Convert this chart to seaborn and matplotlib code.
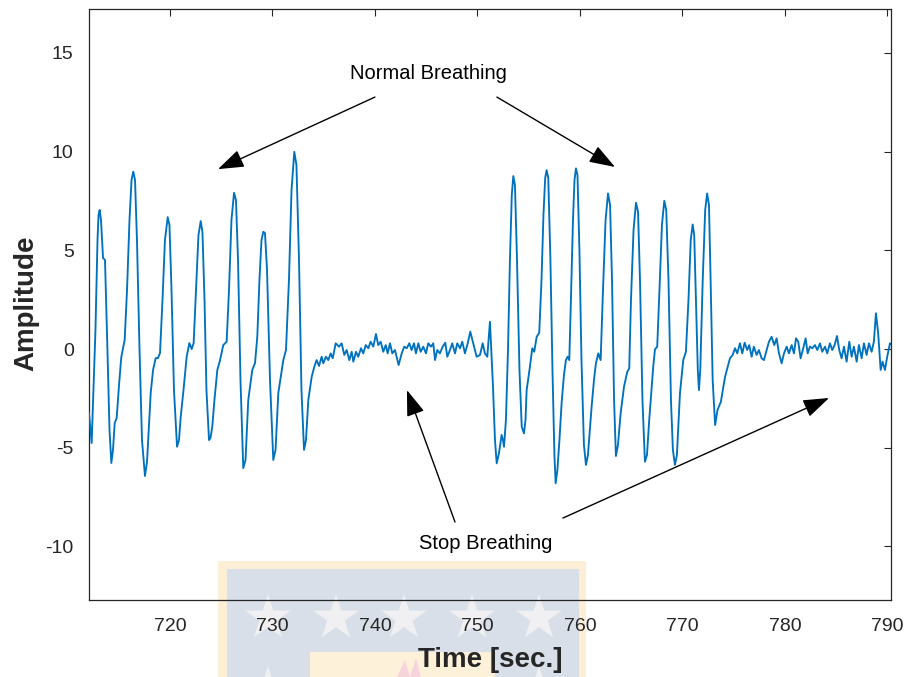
import numpy as np
import pandas as pd
import matplotlib
matplotlib.use("Agg")
import matplotlib.pyplot as plt
from matplotlib.patches import Rectangle, Polygon
import seaborn as sns

# ---- respiration signal, split by phase -------------------------------
breath1_time = [712.10, 712.36, 712.73, 712.93, 713.03, 713.14, 713.27, 713.47, 713.66, 713.90,
                714.10, 714.28, 714.44, 714.61, 714.80, 715.03, 715.25, 715.58, 715.81, 716.05,
                716.25, 716.42, 716.59, 716.78, 717.03, 717.27, 717.56, 717.76, 718.12, 718.35,
                718.61, 718.83, 719.03, 719.27, 719.51, 719.78, 719.95, 720.15, 720.39, 720.69,
                720.88, 721.05, 721.32, 721.63, 721.89, 722.12, 722.31, 722.59, 722.78, 723.00,
                723.17, 723.37, 723.56, 723.81, 723.95, 724.13, 724.34, 724.62, 724.85, 725.20,
                725.53, 725.76, 726.00, 726.25, 726.44, 726.64, 726.88, 727.15, 727.37, 727.64,
                728.03, 728.30, 728.52, 728.73, 728.93, 729.11, 729.27, 729.47, 729.76, 730.08,
                730.30, 730.57, 731.06, 731.32, 731.61, 731.86, 732.13, 732.34, 732.59, 732.83,
                733.08, 733.27, 733.50, 733.83, 734.08, 734.31, 734.54, 734.80]
breath1_amp = [-3.24, -4.76, 0.96, 5.52, 6.78, 7.04, 6.53, 4.61, 4.51, -0.05,
               -4.10, -5.77, -5.11, -3.75, -3.49, -1.82, -0.41, 0.46, 2.99, 6.53,
               8.56, 8.98, 8.56, 5.52, -0.05, -4.61, -6.43, -5.72, -2.23, -1.06,
               -0.46, -0.46, -0.20, 2.48, 5.52, 6.68, 6.28, 2.99, -2.08, -4.95,
               -4.61, -3.43, -2.08, -0.39, 0.30, 0.00, 0.30, 3.49, 5.77, 6.48,
               5.92, 2.48, -2.08, -4.61, -4.51, -3.93, -2.58, -1.06, -0.64, 0.20,
               0.37, 2.99, 6.53, 7.91, 7.54, 4.51, -1.57, -6.03, -5.62, -2.58,
               -1.06, -0.71, 0.62, 3.49, 5.52, 5.94, 5.87, 4.00, -1.57, -5.62,
               -5.11, -2.23, -0.56, -0.05, 3.49, 8.05, 9.99, 9.32, 4.51, -2.08,
               -5.11, -4.61, -2.58, -1.40, -0.90, -0.56, -0.86, -0.39]

pause1_time = [734.96, 735.22, 735.45, 735.68, 735.88, 736.17, 736.49, 736.75, 737.01, 737.24,
               737.50, 737.73, 737.89, 738.15, 738.37, 738.64, 738.86, 739.10, 739.35, 739.58,
               739.84, 740.10, 740.32, 740.56, 740.81, 741.05, 741.24, 741.47, 741.69, 741.95,
               742.31, 742.61, 742.86, 743.10, 743.35, 743.58, 743.81, 744.00, 744.23, 744.46,
               744.71, 744.98, 745.20, 745.47, 745.69, 745.86, 746.08, 746.34, 746.61, 746.86,
               747.06, 747.32, 747.54, 747.81, 748.03, 748.30, 748.52, 748.78, 749.05, 749.30,
               749.59, 749.92, 750.25, 750.51, 750.73, 750.96, 751.22]
pause1_amp = [-0.72, -0.39, -0.56, -0.22, -0.47, 0.29, 0.12, 0.29, -0.30, -0.05,
              -0.56, -0.14, -0.64, -0.14, -0.39, 0.04, -0.22, 0.20, 0.04, 0.37,
              0.12, 0.76, 0.20, 0.37, -0.14, 0.20, -0.22, 0.29, -0.22, -0.05,
              -0.81, -0.22, 0.12, 0.04, 0.29, -0.05, 0.29, -0.22, 0.29, -0.14,
              0.12, -0.22, 0.29, 0.12, 0.29, -0.56, -0.05, -0.22, 0.12, 0.32,
              -0.39, -0.05, 0.29, -0.22, 0.29, 0.04, 0.37, -0.22, 0.29, 0.88,
              0.29, -0.39, -0.30, 0.29, -0.22, -0.39, 1.38]

breath2_time = [751.51, 751.71, 751.88, 752.10, 752.36, 752.49, 752.59, 752.78, 752.98, 753.17,
                753.35, 753.50, 753.66, 753.86, 754.10, 754.32, 754.54, 754.69, 754.80, 755.12,
                755.35, 755.54, 755.78, 756.03, 756.25, 756.44, 756.61, 756.75, 756.91, 757.12,
                757.32, 757.51, 757.63, 757.80, 758.00, 758.21, 758.44, 758.63, 758.80, 758.96,
                759.12, 759.32, 759.47, 759.61, 759.76, 759.95, 760.15, 760.39, 760.59, 760.78,
                761.14, 761.37, 761.56, 761.79, 762.02, 762.25, 762.50, 762.74, 762.94, 763.13,
                763.33, 763.51, 763.71, 763.97, 764.30, 764.62, 764.81, 764.98, 765.23, 765.47,
                765.67, 765.86, 766.10, 766.34, 766.54, 766.76, 766.98, 767.15, 767.32, 767.54,
                767.76, 768.00, 768.23, 768.42, 768.64, 768.88, 769.07, 769.27, 769.46, 769.76,
                770.08, 770.34, 770.59, 770.81, 771.00, 771.15, 771.32, 771.50, 771.61, 771.74,
                771.98, 772.22, 772.41, 772.59, 772.75, 772.95, 773.19, 773.42, 773.75]
breath2_amp = [-1.82, -4.61, -5.79, -5.28, -4.35, -4.61, -4.95, -3.59, -0.05, 4.51,
               7.80, 8.76, 8.30, 4.51, -1.06, -3.93, -4.27, -3.59, -2.08, -0.90,
               0.04, -0.14, 0.62, 0.83, 3.49, 6.78, 8.66, 9.06, 8.66, 4.51,
               -1.06, -5.37, -6.80, -6.13, -4.61, -2.75, -1.32, -0.56, -0.39, -0.56,
               2.48, 6.53, 8.56, 9.15, 8.81, 5.01, -0.56, -4.86, -5.87, -5.37,
               -2.92, -1.57, -0.72, -0.22, -0.56, 2.99, 6.53, 7.88, 7.29, 3.49,
               -2.58, -5.42, -4.86, -3.26, -1.91, -1.15, -0.98, 2.48, 6.03, 7.41,
               6.94, 3.49, -2.58, -5.71, -5.37, -3.59, -2.08, -0.90, -0.02, 0.12,
               2.99, 6.28, 7.51, 7.04, 3.49, -2.58, -5.11, -5.87, -5.37, -2.24,
               -0.56, -0.14, 2.48, 5.52, 6.31, 5.77, 2.48, -1.06, -2.08, -1.06,
               3.49, 7.04, 7.88, 7.29, 3.49, -1.57, -3.85, -3.09, -2.67]

pause2_time = [774.16, 774.64, 774.90, 775.13, 775.35, 775.61, 775.84, 776.07, 776.32, 776.52,
               776.75, 776.97, 777.24, 777.46, 777.73, 777.95, 778.22, 778.44, 778.70, 778.96,
               779.19, 779.42, 779.68, 779.91, 780.17, 780.39, 780.66, 780.88, 781.08, 781.30,
               781.53, 781.79, 782.02, 782.22, 782.44, 782.67, 782.93, 783.16, 783.42, 783.64,
               783.91, 784.13, 784.39, 784.62, 784.85, 785.08, 785.30, 785.53, 785.76, 786.02,
               786.28, 786.51, 786.73, 787.00, 787.22, 787.49, 787.71, 787.97, 788.20, 788.46,
               788.68, 788.88, 789.10, 789.34, 789.53, 789.76, 789.98, 790.25, 790.45]
pause2_amp = [-1.40, -0.47, -0.30, 0.04, -0.22, 0.29, -0.22, 0.32, -0.05, 0.20,
              -0.39, 0.12, -0.30, -0.05, -0.47, -0.56, -0.05, 0.37, 0.62, 0.20,
              0.54, -0.22, -0.72, -0.22, 0.12, -0.22, 0.20, -0.22, 0.54, 0.37,
              -0.47, 0.04, 0.54, -0.22, 0.12, 0.04, 0.20, -0.05, 0.29, -0.14,
              0.12, -0.22, 0.29, -0.05, 0.20, 0.66, -0.05, -0.47, 0.12, -0.64,
              0.37, -0.39, 0.12, -0.64, 0.20, -0.47, 0.29, -0.30, 0.29, -0.14,
              0.37, 1.81, 0.79, -1.06, -0.64, -1.06, -0.39, 0.29, 0.20]

x_ticks = [720, 730, 740, 750, 760, 770, 780, 790]
y_ticks = [-10, -5, 0, 5, 10, 15]

signal = pd.DataFrame({
    "time": breath1_time + pause1_time + breath2_time + pause2_time,
    "amp": breath1_amp + pause1_amp + breath2_amp + pause2_amp,
})

# ---- styling ----------------------------------------------------------
sns.set_theme(style="white")
plt.rcParams["font.family"] = ["Liberation Sans", "DejaVu Sans"]
INK = "#262626"
LINE = "#0072BD"

W, H = 909, 677
fig = plt.figure(figsize=(W / 100, H / 100), dpi=100)
fig.patch.set_facecolor("white")
ax = fig.add_axes([89 / W, 1 - 600 / H, (891 - 89) / W, (600 - 9) / H])
ax.set_facecolor("white")

sns.lineplot(data=signal, x="time", y="amp", ax=ax, color=LINE, linewidth=1.35,
             sort=False, estimator=None, zorder=3)
ax.lines[-1].set_solid_joinstyle("round")

ax.set_xlim(712.1, 790.35)
ax.set_ylim(-12.71, 17.22)
ax.set_xticks(x_ticks)
ax.set_yticks(y_ticks)
ax.set_xticklabels([str(v) for v in x_ticks])
ax.set_yticklabels([str(v) for v in y_ticks])
ax.tick_params(direction="in", length=5, width=0.8, top=True, right=True,
               labelsize=14, colors=INK)
ax.tick_params(axis="x", pad=13)
ax.tick_params(axis="y", pad=11)
for s in ax.spines.values():
    s.set_visible(True)
    s.set_color(INK)
    s.set_linewidth(0.9)

ax.set_xlabel("Time [sec.]", fontsize=20, fontweight="bold", color=INK)
ax.set_ylabel("Amplitude", fontsize=20, fontweight="bold", color=INK)
ax.xaxis.set_label_coords(0.5, -(660 - 600) / 591)
ax.xaxis.label.set_va("center")
ax.yaxis.set_label_coords(-(89 - 26) / 802, (600 - 303) / 591)
ax.yaxis.label.set_va("center")
ax.yaxis.label.set_ha("center")

# ---- annotations ------------------------------------------------------
arrow_kw = dict(arrowstyle="-|>,head_length=1.0,head_width=0.35", color="black",
                lw=1.0, mutation_scale=16, shrinkA=0, shrinkB=0)
ax.text(745.17, 13.97, "Normal Breathing", fontsize=14.5, ha="center", va="center",
        color="black")
ax.annotate("", xy=(724.69, 9.11), xytext=(740.0, 12.76), arrowprops=arrow_kw)
ax.annotate("", xy=(763.42, 9.22), xytext=(751.9, 12.76), arrowprops=arrow_kw)
ax.text(750.83, -9.87, "Stop Breathing", fontsize=14.5, ha="center", va="center",
        color="black")
ax.annotate("", xy=(743.12, -2.08), xytext=(747.81, -8.76), arrowprops=arrow_kw)
ax.annotate("", xy=(784.3, -2.48), xytext=(758.34, -8.56), arrowprops=arrow_kw)

# ---- faint emblem printed across the lower margin ---------------------
fig_px = fig.transFigure


def fpx(x, y):
    return (x / W, 1 - y / H)


def star(cx, cy, r):
    pts = []
    for k in range(10):
        ang = np.pi / 2 + k * np.pi / 5
        rad = r if k % 2 == 0 else r * 0.38
        pts.append(fpx(cx + rad * np.cos(ang), cy - rad * np.sin(ang)))
    return pts


def add_bg(patch):
    patch.set_transform(fig_px)
    patch.set_clip_on(False)
    patch.set_zorder(0.5)
    ax.add_artist(patch)


add_bg(Rectangle(fpx(218, 677), (586 - 218) / W, (677 - 561) / H,
                 facecolor="#FCEFD5", edgecolor="none"))
add_bg(Rectangle(fpx(227, 677), (579 - 227) / W, (677 - 569) / H,
                 facecolor="#D8DFE9", edgecolor="none"))
for cx in [268, 336, 404, 472, 539]:
    add_bg(Polygon(star(cx, 618, 24), closed=True, facecolor="#F0F0F2", edgecolor="none"))
for cx in [268, 539]:
    add_bg(Polygon(star(cx, 690, 24), closed=True, facecolor="#F0F0F2", edgecolor="none"))
add_bg(Rectangle(fpx(310, 677), (495 - 310) / W, (677 - 652) / H,
                 facecolor="#FDF1DA", edgecolor="none"))
add_bg(Polygon([fpx(397, 677), fpx(405, 660), fpx(410, 677), fpx(416, 658),
                fpx(421, 677)], closed=True, facecolor="#F7D3DC", edgecolor="none"))

fig.savefig("out.png", dpi=100, facecolor="white")
